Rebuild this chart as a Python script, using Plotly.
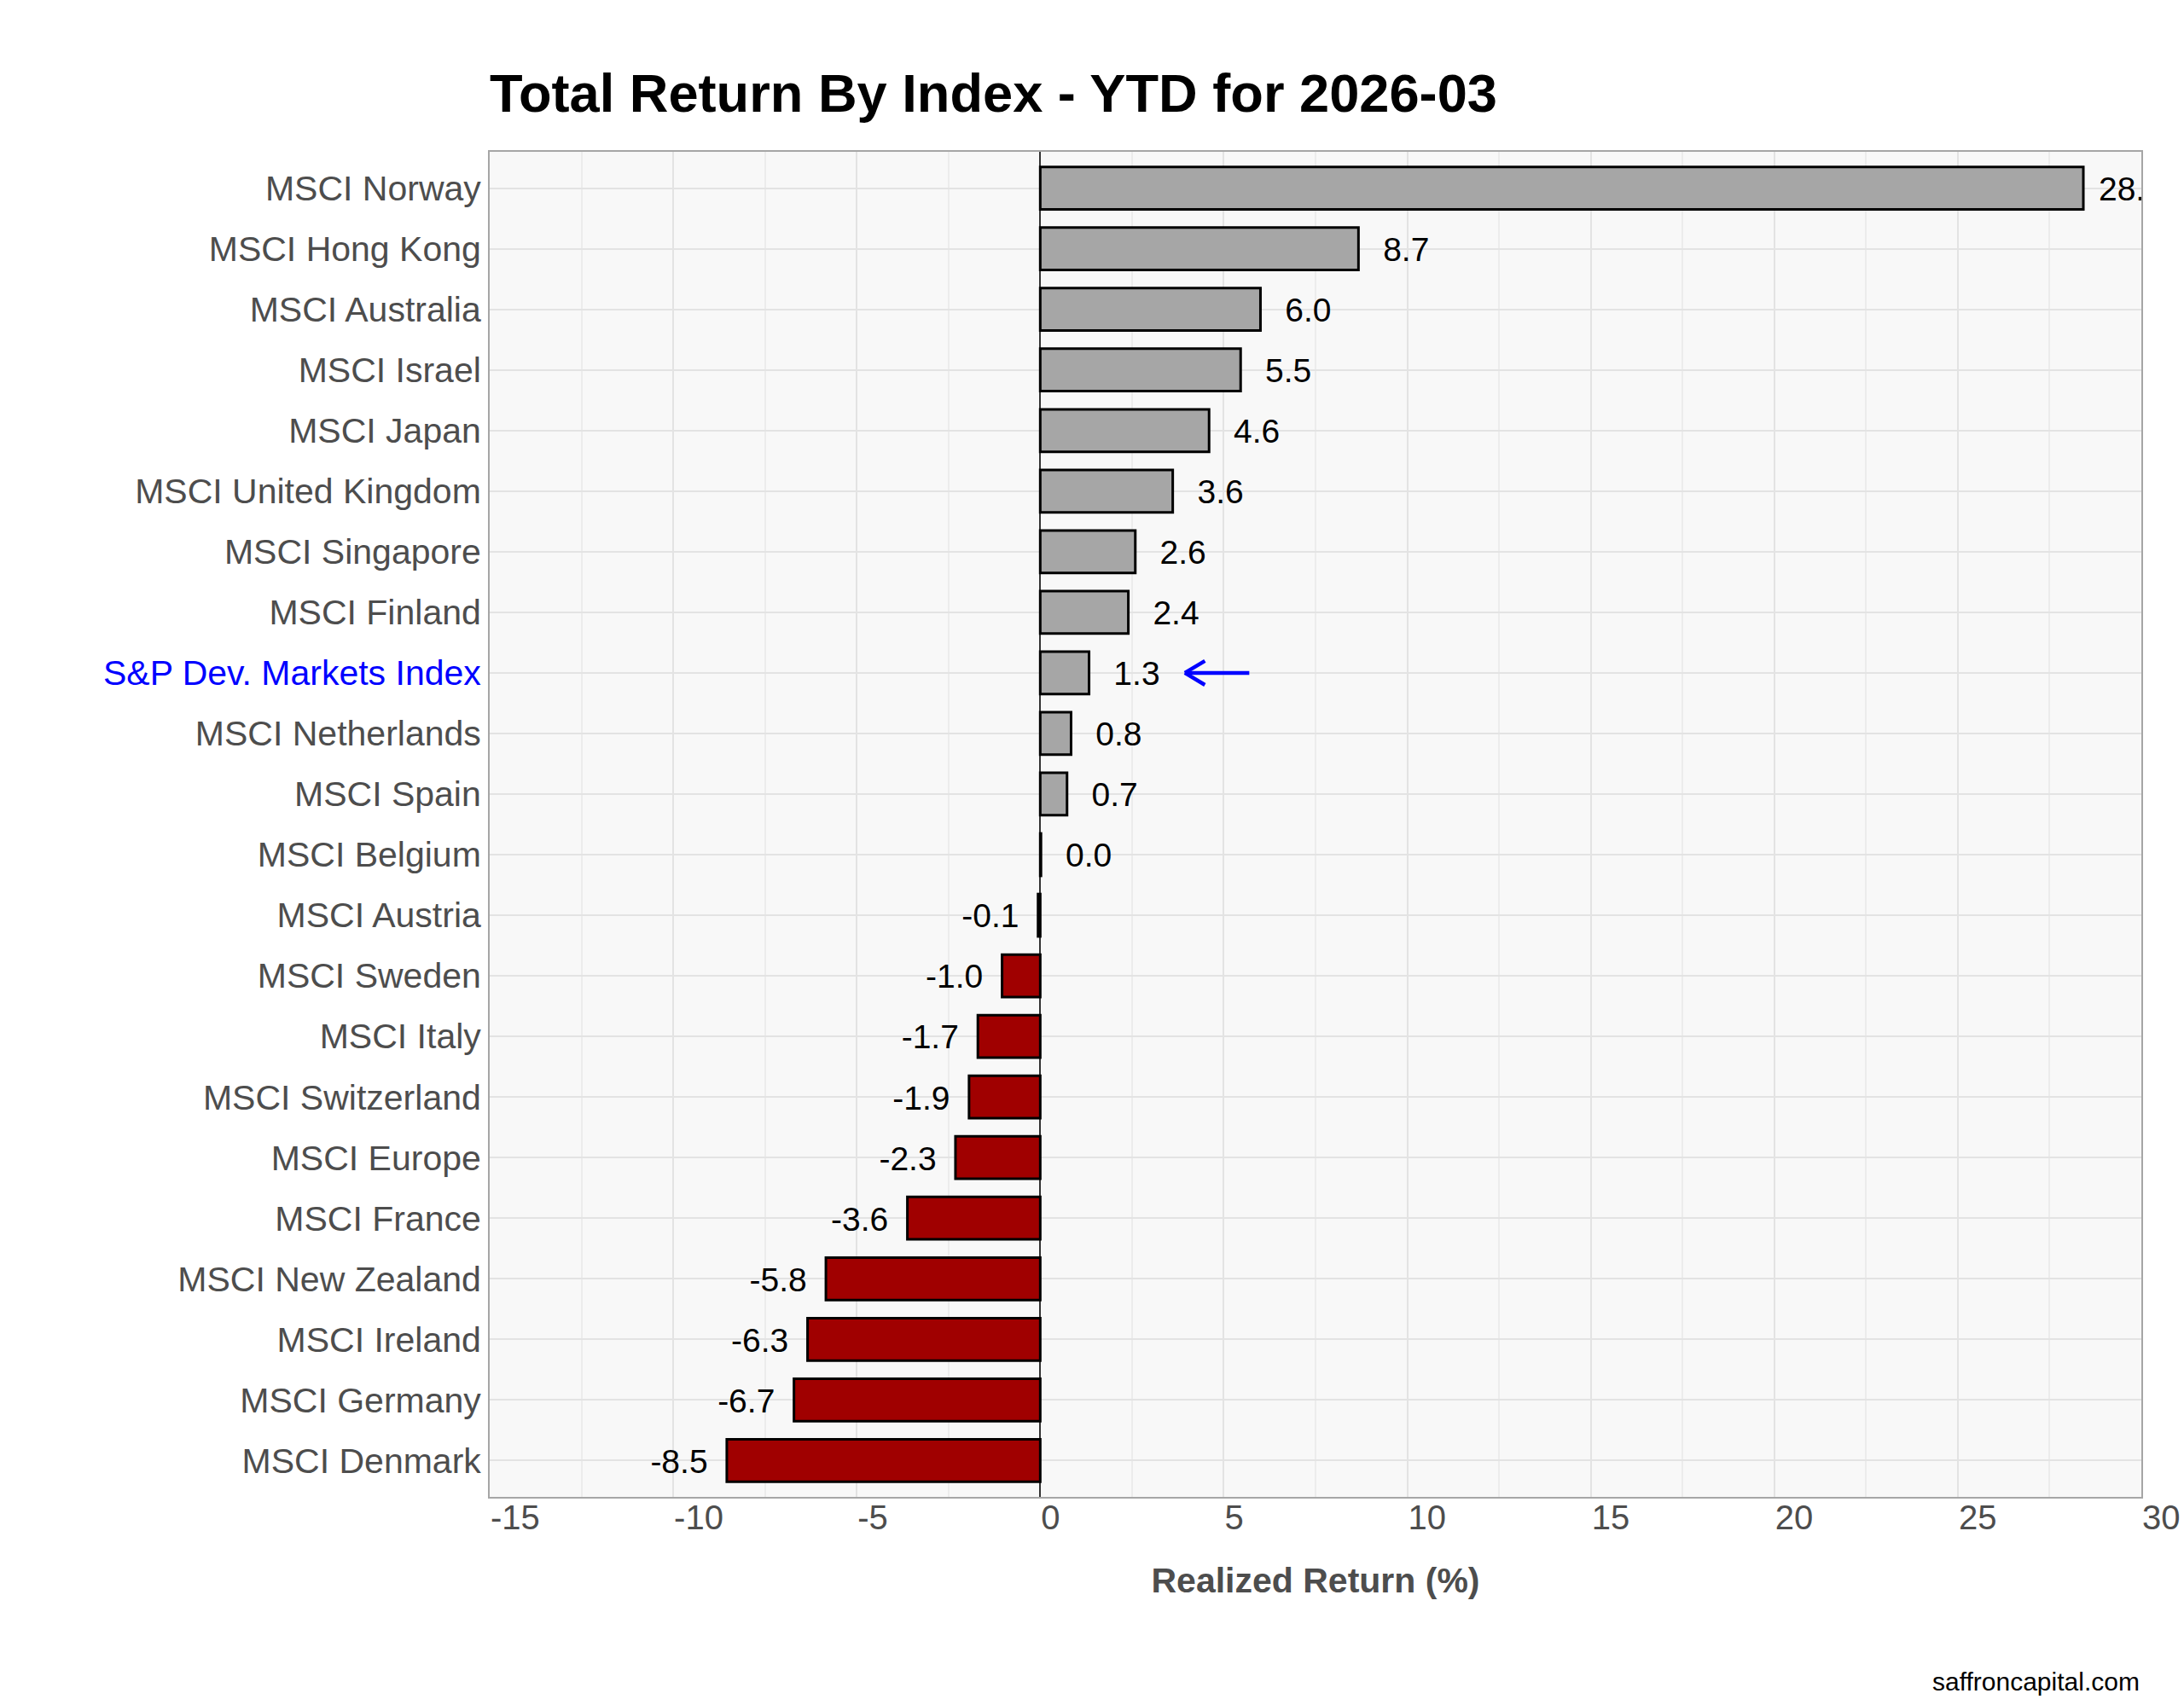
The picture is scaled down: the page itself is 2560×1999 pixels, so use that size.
import plotly.graph_objects as go

# ---------------- data ----------------
categories = [
    "MSCI Norway", "MSCI Hong Kong", "MSCI Australia", "MSCI Israel", "MSCI Japan",
    "MSCI United Kingdom", "MSCI Singapore", "MSCI Finland", "S&P Dev. Markets Index",
    "MSCI Netherlands", "MSCI Spain", "MSCI Belgium", "MSCI Austria", "MSCI Sweden",
    "MSCI Italy", "MSCI Switzerland", "MSCI Europe", "MSCI France", "MSCI New Zealand",
    "MSCI Ireland", "MSCI Germany", "MSCI Denmark",
]
returns = [
    28.42, 8.67, 6.00, 5.46, 4.60,
    3.61, 2.59, 2.40, 1.33,
    0.84, 0.73, 0.02, -0.06, -1.04,
    -1.70, -1.94, -2.31, -3.62, -5.84,
    -6.34, -6.71, -8.54,
]
highlight = "S&P Dev. Markets Index"
arrow_tail_x = 5.73
arrow_head_x = 3.94
x_ticks = [-15, -10, -5, 0, 5, 10, 15, 20, 25, 30]

# ---------------- styling ----------------
FONT = "Liberation Sans, Arial, Helvetica, sans-serif"
POS_COLOR = "#A6A6A6"
NEG_COLOR = "#A00000"
AXIS_TEXT = "#4D4D4D"
LABEL_NUDGE_X = 1.3    # label centre offset from bar end (x units)
LABEL_NUDGE_Y = 0.065  # small optical offset for text baseline (y units)

pos = list(range(len(categories)))
colors = [POS_COLOR if v >= 0 else NEG_COLOR for v in returns]
label_x = [v + (LABEL_NUDGE_X if v >= 0 else -LABEL_NUDGE_X) for v in returns]
label_y = [p + LABEL_NUDGE_Y for p in pos]
label_text = [f"{v:.1f}" for v in returns]

ticktext = [
    f'<span style="color:#0000FF">{c}</span>' if c == highlight else c
    for c in categories
]

fig = go.Figure()
fig.add_trace(go.Bar(
    x=returns,
    y=pos,
    orientation="h",
    width=0.7,
    marker=dict(color=colors, line=dict(color="black", width=3)),
    customdata=categories,
    hovertemplate="%{customdata}: %{x}<extra></extra>",
    showlegend=False,
))
fig.add_trace(go.Scatter(
    x=label_x,
    y=label_y,
    mode="text",
    text=label_text,
    textposition="middle center",
    cliponaxis=True,
    textfont=dict(family=FONT, size=39, color="black"),
    hoverinfo="skip",
    showlegend=False,
))

# arrow pointing at highlighted index
y_hl = categories.index(highlight)
fig.add_annotation(x=arrow_head_x, y=y_hl, xref="x", yref="y",
                   ax=arrow_tail_x, ay=0, axref="x", ayref="pixel",
                   text="", showarrow=True, arrowhead=0, arrowwidth=4.5,
                   arrowcolor="#0000FF", standoff=0, startstandoff=0)
for dy in (-15, 15):
    fig.add_annotation(x=arrow_head_x, y=y_hl, xref="x", yref="y",
                       ax=25, ay=dy, axref="pixel", ayref="pixel",
                       text="", showarrow=True, arrowhead=0, arrowwidth=4.5,
                       arrowcolor="#0000FF", standoff=0, startstandoff=0)

# caption
fig.add_annotation(text="saffroncapital.com", xref="paper", yref="paper",
                   x=1, y=-0.1376, xanchor="right", yanchor="middle",
                   showarrow=False, font=dict(family=FONT, size=30, color="black"))

fig.update_layout(
    width=2560, height=1999, autosize=False,
    margin=dict(l=574, r=50, t=178, b=244, pad=0),
    paper_bgcolor="white",
    plot_bgcolor="#F8F8F8",
    font=dict(family=FONT, color=AXIS_TEXT),
    title=dict(text="<b>Total Return By Index - YTD for 2026-03</b>",
               font=dict(family=FONT, size=63.2, color="black"),
               x=0, xref="paper", xanchor="left",
               y=1 - 109 / 1999, yref="container", yanchor="middle"),
)

fig.update_xaxes(
    automargin=False,
    range=[-15, 30], tickvals=x_ticks, ticktext=[str(t) for t in x_ticks],
    ticks="", ticklabelposition="outside right", ticklabelstandoff=-12,
    tickfont=dict(family=FONT, size=40, color=AXIS_TEXT),
    showgrid=True, gridcolor="#E3E3E3", gridwidth=2,
    minor=dict(dtick=2.5, tick0=0, showgrid=True, gridcolor="#ECECEC", gridwidth=1.5),
    zeroline=True, zerolinecolor="#333333", zerolinewidth=1.5,
    showline=True, linecolor="#A6A6A6", linewidth=2, mirror=True,
    title=dict(text="<b>Realized Return (%)</b>",
               font=dict(family=FONT, size=41, color=AXIS_TEXT), standoff=38),
)
fig.update_yaxes(
    automargin=False,
    type="linear",
    tickvals=pos, ticktext=ticktext,
    range=[len(categories) - 0.4, -0.6],
    ticks="", ticklabelstandoff=0,
    tickfont=dict(family=FONT, size=41, color=AXIS_TEXT),
    showgrid=True, gridcolor="#E3E3E3", gridwidth=2,
    zeroline=False,
    showline=True, linecolor="#A6A6A6", linewidth=2, mirror=True,
)

fig.write_html(
    "out.html",
    config={"displayModeBar": False},
    post_script=(
        "document.body.style.margin='0';"
        "document.body.style.overflow='hidden';"
        "document.documentElement.style.overflow='hidden';"
    ),
)
